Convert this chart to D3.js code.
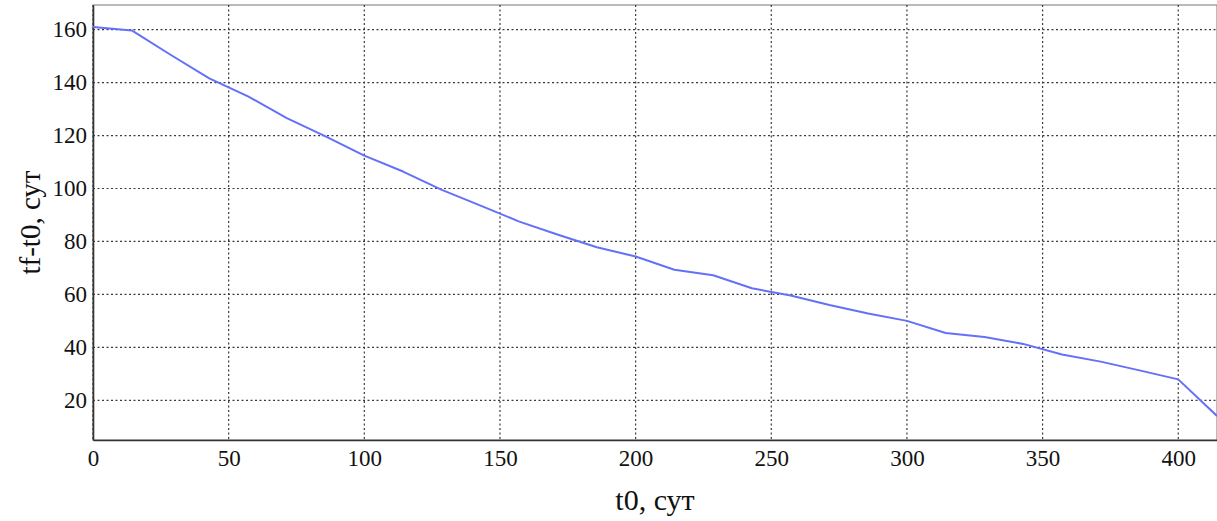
<!DOCTYPE html>
<html>
<head>
<meta charset="utf-8">
<script src="https://cdn.jsdelivr.net/npm/d3@7/dist/d3.min.js"></script>
<style>
  html, body { margin: 0; padding: 0; background: #fff; }
  svg { display: block; }
</style>
</head>
<body>
<svg id="chart" width="1217" height="521"></svg>
<script>
// Start times (days), step of 100/7
const t0 = d3.range(30).map(i => i * 100 / 7);
// Remaining duration tf - t0 (days)
const duration = [
  161.0, 159.7, 150.5, 141.6, 134.8, 126.6, 119.7, 112.4, 106.4, 99.5,
  93.5, 87.5, 82.5, 77.8, 74.3, 69.3, 67.2, 62.3, 59.6, 56.0,
  52.8, 50.0, 45.4, 43.9, 41.3, 37.3, 34.6, 31.3, 27.9, 14.1
];
const xTicks = [0, 50, 100, 150, 200, 250, 300, 350, 400];
const yTicks = [20, 40, 60, 80, 100, 120, 140, 160];
const xLabel = "t0, сут";
const yLabel = "tf-t0, сут";

const FONT = "'Liberation Serif', 'Times New Roman', serif";
const width = 1217, height = 521;
const margin = { top: 5, right: 0, bottom: 81, left: 93 };
const innerW = width - margin.left - margin.right;
const innerH = height - margin.top - margin.bottom;

const svg = d3.select("#chart");
const g = svg.append("g").attr("transform", `translate(${margin.left},${margin.top})`);

const x = d3.scaleLinear().domain([0, d3.max(t0)]).range([0, innerW]);
const y = d3.scaleLinear().domain([5, 169.3]).range([innerH, 0]);

// Frame
g.append("rect")
  .attr("x", 0).attr("y", 0).attr("width", innerW).attr("height", innerH)
  .attr("fill", "none").attr("stroke", "#777").attr("stroke-width", 1);

// Dotted grid
g.append("g").selectAll("line").data(xTicks).join("line")
  .attr("x1", d => x(d)).attr("x2", d => x(d))
  .attr("y1", 0).attr("y2", innerH)
  .attr("stroke", "#3a3a3a").attr("stroke-width", 1.2).attr("stroke-dasharray", "2,2.5");
g.append("g").selectAll("line").data(yTicks).join("line")
  .attr("x1", 0).attr("x2", innerW)
  .attr("y1", d => y(d)).attr("y2", d => y(d))
  .attr("stroke", "#3a3a3a").attr("stroke-width", 1.2).attr("stroke-dasharray", "2,2.5");

// Axes
function styleAxis(sel) {
  sel.attr("font-family", FONT).attr("font-size", 23);
  sel.selectAll("text").style("font-family", FONT).style("font-size", "23px").attr("fill", "#111");
  sel.select(".domain").attr("stroke", "#333").attr("stroke-width", 1.6);
}
const xAxis = g.append("g").attr("transform", `translate(0,${innerH})`)
  .call(d3.axisBottom(x).tickValues(xTicks).tickSize(0).tickPadding(10).tickFormat(d3.format("d")));
styleAxis(xAxis);

const yAxis = g.append("g")
  .call(d3.axisLeft(y).tickValues(yTicks).tickSize(0).tickPadding(6).tickFormat(d3.format("d")));
styleAxis(yAxis);

// Data line
const line = d3.line().x((d, i) => x(t0[i])).y(d => y(d));
g.append("path")
  .datum(duration)
  .attr("d", line)
  .attr("fill", "none")
  .attr("stroke", "#6470f8")
  .attr("stroke-width", 2)
  .attr("stroke-linejoin", "round");

// Axis titles
svg.append("text")
  .style("font-family", FONT).style("font-size", "30px").attr("fill", "#111")
  .attr("x", margin.left + innerW / 2).attr("y", 510)
  .attr("text-anchor", "middle").text(xLabel);
svg.append("text")
  .style("font-family", FONT).style("font-size", "29px").attr("fill", "#111")
  .attr("transform", `translate(40,${margin.top + innerH / 2}) rotate(-90)`)
  .attr("text-anchor", "middle").text(yLabel);
</script>
</body>
</html>
